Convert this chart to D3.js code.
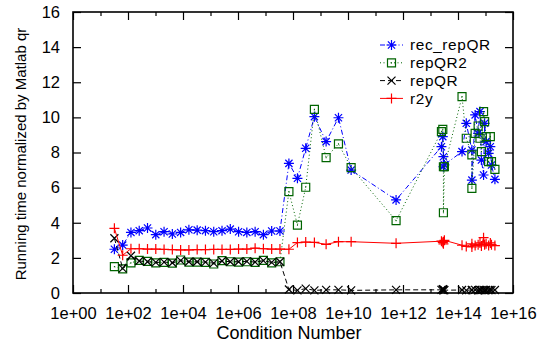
<!DOCTYPE html>
<html>
<head>
<meta charset="utf-8">
<script src="https://cdn.jsdelivr.net/npm/d3@7"></script>
<style>
  body { margin: 0; background: #fff; }
  svg text { font-family: "Liberation Sans", Arial, sans-serif; font-size: 16px; fill: #000; }
</style>
</head>
<body>
<div id="chart"></div>
<script>
// condition numbers (x) and running times for each method
var condNum = [32, 64, 128, 256, 512, 1024, 2048, 4096, 8192, 16384, 32768, 65536, 131072,
  262144, 524288, 1048576, 2097152, 4194304, 8388608, 16777216, 33554432,
  7.1e7, 1.45e8, 2.9e8, 6e8, 1.6e9, 4.5e9, 1.3e10, 5.6e11,
  2.5e13, 2.8e13, 2.95e13, 2.95e13, 3.2e13, 1.4e14, 2.0e14, 3.2e14, 3.2e14, 4.2e14,
  5.4e14, 6.3e14, 7.1e14, 8.5e14, 9.3e14, 1.05e15, 1.3e15, 1.5e15, 1.65e15, 2.2e15];

var recRepQR = [2.49, 2.73, 3.45, 3.55, 3.70, 3.32, 3.49, 3.36, 3.45, 3.60, 3.58, 3.55, 3.49,
  3.55, 3.64, 3.49, 3.45, 3.49, 3.32, 3.53, 3.53,
  7.38, 6.53, 8.24, 10.04, 8.62, 9.98, 7.0, 5.3,
  8.33, 8.90, 7.76, 7.19, 7.30, 8.05, 9.66, 8.14, 6.43, 10.14,
  9.09, 10.33, 7.57, 6.72, 9.66, 8.62, 7.95, 8.33, 7.29, 6.47];

var repQR2 = [1.50, 1.37, 1.72, 1.86, 1.80, 1.72, 1.74, 1.70, 1.88, 1.76, 1.76, 1.74, 1.65,
  1.84, 1.78, 1.76, 1.78, 1.74, 1.86, 1.72, 1.78,
  5.77, 3.87, 6.02, 10.46, 7.71, 8.49, 7.14, 4.12,
  9.19, 9.32, 7.19, 4.57, 7.19, 11.18, 8.81, 7.86, 5.96, 9.09,
  9.51, 8.81, 8.05, 10.33, 9.76, 8.90, 7.48, 8.90, 7.48, 7.04];

var repQR = [3.12, 1.40, 2.12, 1.82, 1.78, 1.74, 1.76, 1.72, 1.84, 1.78, 1.78, 1.76, 1.70,
  1.82, 1.78, 1.78, 1.80, 1.76, 1.84, 1.74, 1.78,
  0.20, 0.15, 0.25, 0.15, 0.18, 0.18, 0.15, 0.18,
  0.18, 0.22, 0.15, 0.20, 0.16, 0.17, 0.15, 0.18, 0.16, 0.18,
  0.15, 0.17, 0.16, 0.18, 0.15, 0.17, 0.16, 0.18, 0.16, 0.17];

var r2y = [3.68, 2.15, 2.52, 2.52, 2.50, 2.50, 2.48, 2.47, 2.45, 2.45, 2.47, 2.47, 2.48,
  2.48, 2.48, 2.50, 2.50, 2.55, 2.52, 2.50, 2.50,
  2.49, 2.87, 2.90, 2.88, 2.77, 2.92, 2.92, 2.83,
  2.95, 2.88, 2.80, 2.92, 3.00, 2.72, 2.65, 2.80, 2.62, 2.70,
  2.75, 2.85, 2.68, 3.15, 2.75, 2.80, 2.70, 2.85, 2.75, 2.70];

var xMajorTicks = [1e0, 1e2, 1e4, 1e6, 1e8, 1e10, 1e12, 1e14, 1e16];
var xMinorTicks = [1e1, 1e3, 1e5, 1e7, 1e9, 1e11, 1e13, 1e15];
var yTicks = [0, 2, 4, 6, 8, 10, 12, 14, 16];

var width = 548, height = 347;
var margin = {top: 12, right: 35, bottom: 54, left: 73};

var svg = d3.select("#chart").append("svg")
    .attr("width", width)
    .attr("height", height);

var xa = d3.scaleLog()
    .domain([1, 1e16])
    .range([margin.left, width - margin.right]);

var ya = d3.scaleLinear()
    .domain([0, 16])
    .range([height - margin.bottom, margin.top]);

var fmtExp = function(d) {
    var e = Math.round(Math.log10(d));
    return "1e+" + (e < 10 ? "0" + e : e);
};

// markers as small paths
function asterisk(r) {
    var a = r * 0.72;
    return "M" + (-r) + ",0H" + r + "M0," + (-r) + "V" + r +
        "M" + (-a) + "," + (-a) + "L" + a + "," + a + "M" + (-a) + "," + a + "L" + a + "," + (-a);
}
function boxDot(r) {
    return "M" + (-r) + "," + (-r) + "H" + r + "V" + r + "H" + (-r) + "Z" +
        "M-0.5,0H0.5";
}
function cross(r) {
    return "M" + (-r) + "," + (-r) + "L" + r + "," + r + "M" + (-r) + "," + r + "L" + r + "," + (-r);
}
function plus(r) {
    return "M" + (-r) + ",0H" + r + "M0," + (-r) + "V" + r;
}

var series = [
    {name: "rec_repQR", values: recRepQR, color: "#0000ff", dash: "5,2.5,1,2.5", marker: asterisk(5)},
    {name: "repQR2", values: repQR2, color: "#006400", dash: "1,2.5", marker: boxDot(4)},
    {name: "repQR", values: repQR, color: "#000000", dash: "5,3", marker: cross(4)},
    {name: "r2y", values: r2y, color: "#ff0000", dash: null, marker: plus(5)}
];

// axes (ticks drawn inward, mirrored on top and right)
var plotBottom = height - margin.bottom;
var plotRight = width - margin.right;

svg.append("g")
    .attr("transform", "translate(0," + plotBottom + ")")
    .call(d3.axisBottom(xa).tickValues(xMajorTicks).tickFormat(fmtExp)
        .tickSizeInner(-8).tickSizeOuter(0).tickPadding(14))
    .call(function(g) { g.select(".domain").remove(); });

svg.append("g")
    .attr("transform", "translate(0," + plotBottom + ")")
    .call(d3.axisBottom(xa).tickValues(xMinorTicks).tickFormat("")
        .tickSizeInner(-4).tickSizeOuter(0))
    .call(function(g) { g.select(".domain").remove(); });

svg.append("g")
    .attr("transform", "translate(0," + margin.top + ")")
    .call(d3.axisTop(xa).tickValues(xMajorTicks).tickFormat("")
        .tickSizeInner(-8).tickSizeOuter(0))
    .call(function(g) { g.select(".domain").remove(); });

svg.append("g")
    .attr("transform", "translate(0," + margin.top + ")")
    .call(d3.axisTop(xa).tickValues(xMinorTicks).tickFormat("")
        .tickSizeInner(-4).tickSizeOuter(0))
    .call(function(g) { g.select(".domain").remove(); });

svg.append("g")
    .attr("transform", "translate(" + margin.left + ",0)")
    .call(d3.axisLeft(ya).tickValues(yTicks).tickFormat(d3.format("d"))
        .tickSizeInner(-8).tickSizeOuter(0).tickPadding(13))
    .call(function(g) { g.select(".domain").remove(); });

svg.append("g")
    .attr("transform", "translate(" + plotRight + ",0)")
    .call(d3.axisRight(ya).tickValues(yTicks).tickFormat("")
        .tickSizeInner(-8).tickSizeOuter(0))
    .call(function(g) { g.select(".domain").remove(); });

svg.selectAll(".tick line").attr("stroke", "#000").attr("stroke-width", 1.2);
svg.selectAll(".tick text")
    .style("font-family", "'Liberation Sans', Arial, sans-serif")
    .style("font-size", "16.5px");

// frame
svg.append("rect")
    .attr("x", margin.left)
    .attr("y", margin.top)
    .attr("width", plotRight - margin.left)
    .attr("height", plotBottom - margin.top)
    .attr("fill", "none")
    .attr("stroke", "#000")
    .attr("stroke-width", 1.6);

// axis titles
svg.append("text")
    .attr("x", (margin.left + plotRight) / 2 - 4)
    .attr("y", 339)
    .style("text-anchor", "middle")
    .style("font-size", "18px")
    .text("Condition Number");

svg.append("text")
    .attr("transform", "translate(26,154) rotate(-90)")
    .style("text-anchor", "middle")
    .style("font-size", "15px")
    .text("Running time normalized by Matlab qr");

// series
var line = d3.line()
    .x(function(d) { return xa(d[0]); })
    .y(function(d) { return ya(d[1]); });

series.forEach(function(s) {
    var pts = condNum.map(function(c, i) { return [c, s.values[i]]; });
    svg.append("path")
        .datum(pts)
        .attr("d", line)
        .attr("fill", "none")
        .attr("stroke", s.color)
        .attr("stroke-width", 1)
        .attr("stroke-dasharray", s.dash);
    svg.append("g").selectAll("path")
        .data(pts).enter().append("path")
        .attr("transform", function(d) { return "translate(" + xa(d[0]) + "," + ya(d[1]) + ")"; })
        .attr("d", s.marker)
        .attr("fill", "none")
        .attr("stroke", s.color)
        .attr("stroke-width", 1.2);
});

// legend
var legend = svg.append("g").attr("transform", "translate(380,45)");
series.forEach(function(s, i) {
    var row = legend.append("g").attr("transform", "translate(0," + (i * 17.8) + ")");
    row.append("line")
        .attr("x1", 0).attr("x2", 23).attr("y1", 0).attr("y2", 0)
        .attr("stroke", s.color)
        .attr("stroke-width", 1)
        .attr("stroke-dasharray", s.dash);
    row.append("path")
        .attr("transform", "translate(11.5,0)")
        .attr("d", s.marker)
        .attr("fill", "none")
        .attr("stroke", s.color)
        .attr("stroke-width", 1.2);
    row.append("text")
        .attr("x", 30)
        .attr("y", 0)
        .attr("dy", "0.35em")
        .style("font-size", "15.4px")
        .style("letter-spacing", "0.6px")
        .text(s.name);
});
</script>
</body>
</html>
